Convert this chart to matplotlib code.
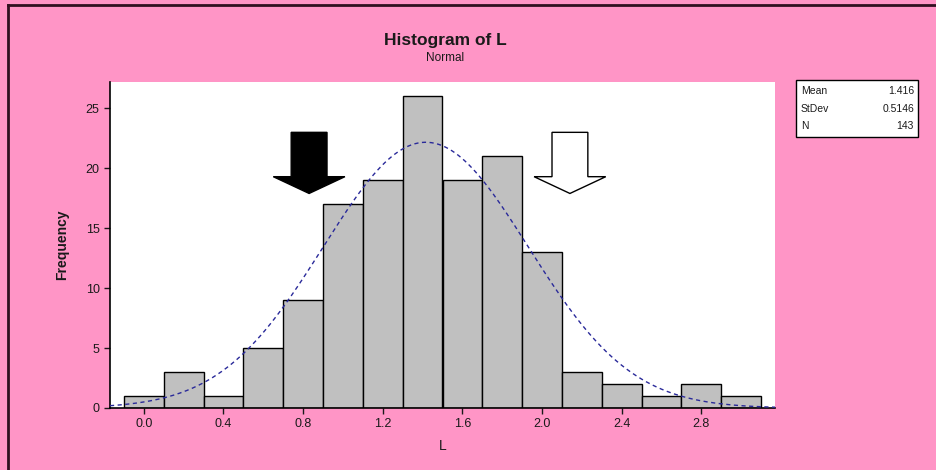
import numpy as np
import matplotlib
matplotlib.use('Agg')
import matplotlib.pyplot as plt
from matplotlib.patches import Polygon, Rectangle
from matplotlib.lines import Line2D

# Histogram data (bin midpoints, width 0.2)
bin_mids = [0.0, 0.2, 0.4, 0.6, 0.8, 1.0, 1.2, 1.4, 1.6, 1.8, 2.0, 2.2, 2.4, 2.6, 2.8, 3.0]
counts = [1, 3, 1, 5, 9, 17, 19, 26, 19, 21, 13, 3, 2, 1, 2, 1]
bin_width = 0.2
x_ticks = [0.0, 0.4, 0.8, 1.2, 1.6, 2.0, 2.4, 2.8]
x_tick_labels = ['0.0', '0.4', '0.8', '1.2', '1.6', '2.0', '2.4', '2.8']
y_ticks = [0, 5, 10, 15, 20, 25]

mean = 1.416
stdev = 0.5146
n = 143

PINK = '#ff95c6'
BAR = '#c0c0c0'
CURVE = '#2a2a9a'
TEXT = '#1a1a1a'

plt.rcParams['font.family'] = ['Liberation Sans', 'DejaVu Sans']

fig = plt.figure(figsize=(9.37, 4.70), dpi=100)
fig.patch.set_facecolor(PINK)

W, H = 937.0, 470.0
ax = fig.add_axes([110 / W, 1 - 408 / H, (775 - 110) / W, (408 - 82) / H])
ax.set_facecolor('white')

ax.bar(bin_mids, counts, width=bin_width, color=BAR, edgecolor='black', linewidth=1.0, zorder=2)

# fitted normal curve scaled to counts
xs = np.linspace(-0.17, 3.17, 400)
pdf = np.exp(-0.5 * ((xs - mean) / stdev) ** 2) / (stdev * np.sqrt(2 * np.pi))
ax.plot(xs, pdf * n * bin_width, color=CURVE, linewidth=1.0, linestyle=(0, (3, 2.5)), zorder=3)

ax.set_xlim(-0.17, 3.17)
ax.set_ylim(0, 27.2)
ax.set_xticks(x_ticks)
ax.set_xticklabels(x_tick_labels)
ax.set_yticks(y_ticks)
ax.tick_params(colors=TEXT, labelsize=9, length=4, width=1, direction='out')
for side in ['top', 'right']:
    ax.spines[side].set_visible(False)
for side in ['left', 'bottom']:
    ax.spines[side].set_color('black')
    ax.spines[side].set_linewidth(1.2)

ax.set_xlabel('L', fontsize=10, color=TEXT, labelpad=6)
ax.set_ylabel('Frequency', fontsize=10, fontweight='bold', color=TEXT, labelpad=12)

# down arrows (annotations added on the chart)
def down_arrow(cx, face):
    top, neck, tip = 23.0, 19.3, 17.9
    half_shaft, half_head = 0.09, 0.18
    pts = [(cx - half_shaft, top), (cx + half_shaft, top), (cx + half_shaft, neck),
           (cx + half_head, neck), (cx, tip), (cx - half_head, neck),
           (cx - half_shaft, neck)]
    ax.add_patch(Polygon(pts, closed=True, facecolor=face, edgecolor='black',
                         linewidth=1.0, zorder=4))

down_arrow(0.83, 'black')
down_arrow(2.14, 'white')

# titles
fig.text(445 / W, 1 - 40 / H, 'Histogram of L', ha='center', va='center',
         fontsize=12.5, fontweight='bold', color=TEXT)
fig.text(445 / W, 1 - 58 / H, 'Normal', ha='center', va='center', fontsize=8.5, color=TEXT)

# stats box
bx0, bx1, by0, by1 = 796, 918, 80, 137
fig.patches.append(Rectangle((bx0 / W, 1 - by1 / H), (bx1 - bx0) / W, (by1 - by0) / H,
                             transform=fig.transFigure, facecolor='white',
                             edgecolor='black', linewidth=1.0))
labels = ['Mean', 'StDev', 'N']
values = [f'{mean:.3f}', f'{stdev:.4f}', f'{n}']
for i, (lab, val) in enumerate(zip(labels, values)):
    yy = 1 - (91 + i * 17.5) / H
    fig.text((bx0 + 5) / W, yy, lab, ha='left', va='center', fontsize=7.5, color=TEXT)
    fig.text((bx1 - 4) / W, yy, val, ha='right', va='center', fontsize=7.5, color=TEXT)

# outer frame edges
fig.lines.append(Line2D([8 / W, 8 / W], [0, 1 - 5 / H], transform=fig.transFigure,
                        color='#301020', linewidth=2))
fig.lines.append(Line2D([8 / W, 1], [1 - 5 / H, 1 - 5 / H], transform=fig.transFigure,
                        color='#301020', linewidth=2))

fig.savefig('out.png', dpi=100, facecolor=fig.get_facecolor())
